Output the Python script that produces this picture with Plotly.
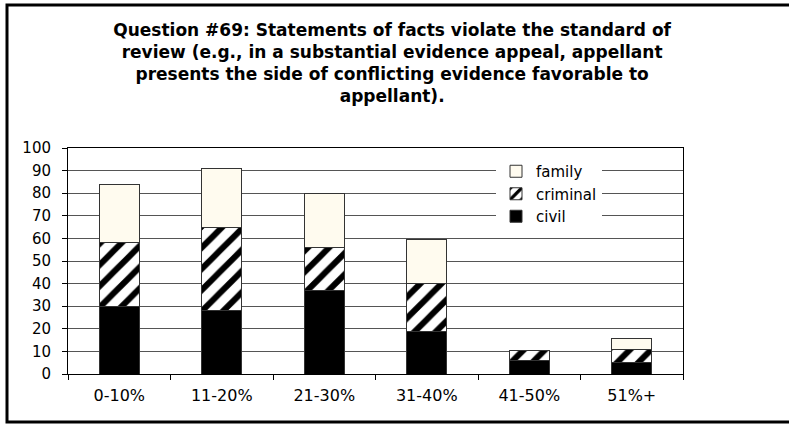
import plotly.graph_objects as go

categories = ["0-10%", "11-20%", "21-30%", "31-40%", "41-50%", "51%+"]
civil = [30, 28, 37, 19, 6, 5]
criminal = [28, 37, 19, 21, 4.5, 6]
family = [26, 26, 24, 19.5, 0, 4.5]
y_ticks = [0, 10, 20, 30, 40, 50, 60, 70, 80, 90, 100]

W, H = 789, 424
L, R, T, B = 68, 683, 148, 374

FONT = "DejaVu Sans, Verdana, sans-serif"

fig = go.Figure()
fig.add_trace(go.Bar(
    x=categories, y=civil, name="civil",
    marker=dict(color="black", line=dict(color="#333", width=1)),
))
fig.add_trace(go.Bar(
    x=categories, y=criminal, name="criminal",
    marker=dict(color="white", line=dict(color="#333", width=1),
                pattern=dict(shape="/", fgcolor="black", bgcolor="white",
                             fgopacity=1, size=15, solidity=0.4,
                             fillmode="replace")),
))
fig.add_trace(go.Bar(
    x=categories, y=family, name="family",
    marker=dict(color="#FFFBEF", line=dict(color="#333", width=1)),
))

fig.update_layout(
    width=W, height=H,
    barmode="stack", bargap=0.61,
    paper_bgcolor="white", plot_bgcolor="white",
    margin=dict(l=L, r=W - R, t=T, b=H - B, pad=0),
    font=dict(family=FONT, size=15, color="black"),
    title=dict(
        text="Question #69: Statements of facts violate the standard of<br>"
             "review (e.g., in a substantial evidence appeal, appellant<br>"
             "presents the side of conflicting evidence favorable to<br>"
             "appellant).",
        font=dict(family=FONT, size=17, color="black", weight="bold"),
        x=0.497, xanchor="center", xref="container",
        y=1 - 36 / H, yanchor="top", yref="container",
    ),
    showlegend=True,
    legend=dict(
        traceorder="reversed",
        x=(496 - L) / (R - L), xanchor="left",
        y=(B - 155) / (B - T), yanchor="top",
        bgcolor="white", borderwidth=0,
        font=dict(family=FONT, size=15, color="black"),
        itemwidth=30,
    ),
    xaxis=dict(
        type="category", tickson="boundaries", ticks="outside", ticklen=5,
        tickcolor="black", showline=True, linecolor="black", linewidth=1,
        mirror=True, showgrid=False, ticklabelstandoff=7,
        tickfont=dict(family=FONT, size=16, color="black"),
    ),
    yaxis=dict(
        range=[0, 100], tickmode="array", tickvals=y_ticks,
        ticks="outside", ticklen=5, tickcolor="black",
        showline=True, linecolor="black", linewidth=1, mirror=True,
        showgrid=True, gridcolor="#555", gridwidth=1,
        zeroline=False, ticklabelstandoff=8,
        tickfont=dict(family=FONT, size=15, color="black"),
    ),
    shapes=[dict(
        type="rect", xref="paper", yref="paper",
        x0=(7 - L) / (R - L), x1=(800 - L) / (R - L),
        y0=(B - 422) / (B - T), y1=(B - 5) / (B - T),
        line=dict(color="black", width=3), fillcolor="rgba(0,0,0,0)",
        layer="above",
    )],
)

fig.write_html("out.html",
               config={"displayModeBar": False},
               post_script="document.body.style.margin='0px';")
